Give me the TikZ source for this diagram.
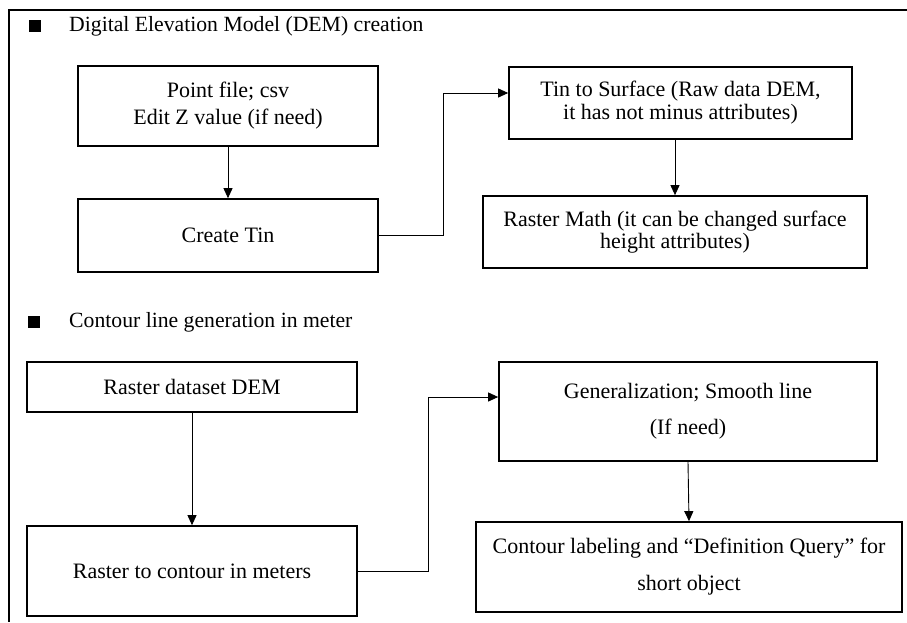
\documentclass[tikz,border=0pt]{standalone}
\usepackage{fontspec}
\setmainfont{Liberation Serif}
\usetikzlibrary{arrows.meta}
\begin{document}
\begin{tikzpicture}[x=1pt,y=-1pt,
  box/.style={draw, line width=1.7pt, inner sep=0pt, align=center},
  conn/.style={line width=0.9pt, -{Triangle[length=10pt,width=9pt]}},
  lbl/.style={anchor=west, inner sep=0pt, font=\fontsize{21.7}{24}\selectfont},
  bullet/.style={fill=black, minimum size=12pt, inner sep=0pt}]
\useasboundingbox (0,0) rectangle (907,622);
\draw[line width=1.7pt] (907,10) -- (9,10) -- (9,622);
% headings
\node[bullet] (b1) at (35,26) {};
\node[lbl] (t1) at (69,26) {Digital Elevation Model (DEM) creation};
\node[bullet] (b2) at (34,322) {};
\node[lbl] (t2) at (69,322) {Contour line generation in meter};
% section 1
\node[box, minimum width=300pt, minimum height=80pt, font=\fontsize{22}{27}\selectfont] (p1) at (228,106) {Point file; csv\\Edit Z value (if need)};
\node[box, minimum width=300pt, minimum height=73pt, font=\fontsize{22}{24}\selectfont] (ct) at (228,235.5) {Create Tin};
\node[box, minimum width=343pt, minimum height=72pt, font=\fontsize{22}{23}\selectfont] (ts) at (680.5,103) {Tin to Surface (Raw data DEM,\\it has not minus attributes)};
\node[box, minimum width=384pt, minimum height=72pt, font=\fontsize{22}{21.5}\selectfont] (rm) at (675,232) {Raster Math (it can be changed surface\\height attributes)};
\draw[conn] (p1.south) -- (ct.north);
\draw[conn] (ts.south -| rm.north) -- (rm.north);
\draw[conn] (ct.east) -- ++(65,0) |- ([yshift=10pt]ts.west);
% section 2
\node[box, minimum width=330pt, minimum height=50pt, font=\fontsize{22}{24}\selectfont] (rd) at (192,387) {Raster dataset DEM};
\node[box, minimum width=330pt, minimum height=90pt, font=\fontsize{22}{24}\selectfont] (rc) at (192,571) {Raster to contour in meters};
\node[box, minimum width=378pt, minimum height=99pt, font=\fontsize{22}{36}\selectfont] (gs) at (688,411.5) {Generalization; Smooth line\\(If need)};
\node[box, minimum width=426pt, minimum height=90pt, font=\fontsize{22}{37}\selectfont] (cl) at (689,567) {Contour labeling and “Definition Query” for\\short object};
\draw[conn] (rd.south) -- (rc.north);
\draw[conn] (gs.south) -- (cl.north);
\draw[conn] (rc.east) -- ++(71,0) |- ([yshift=14.5pt]gs.west);
\end{tikzpicture}
\end{document}
